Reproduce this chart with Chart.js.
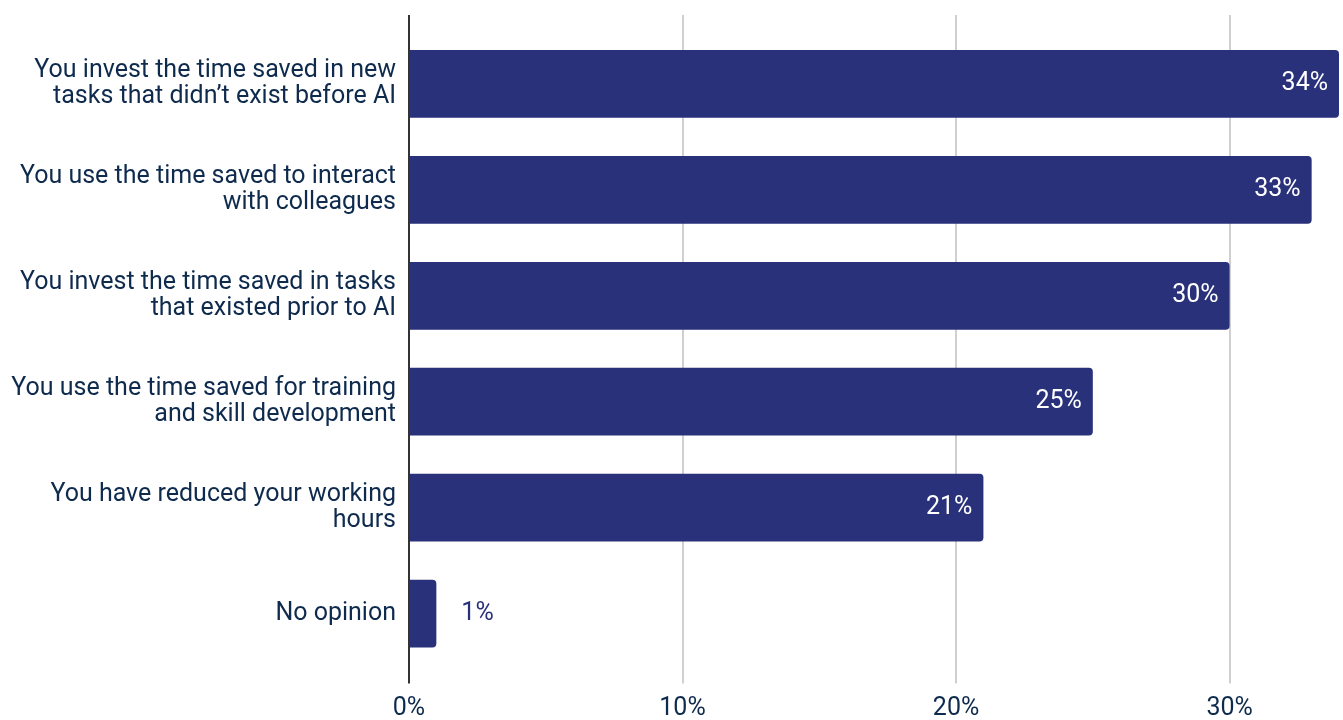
<!DOCTYPE html>
<html>
<head>
<meta charset="utf-8">
<script src="https://cdn.jsdelivr.net/npm/chart.js@4/dist/chart.umd.min.js"></script>
<style>
  html, body { margin: 0; padding: 0; background: #fff; }
  .chart-container { position: relative; width: 1343px; height: 720px; }
</style>
</head>
<body>
<div class="chart-container">
  <canvas id="timeChart"></canvas>
</div>
<script>
const categories = [
  ["You invest the time saved in new", "tasks that didn\u2019t exist before AI"],
  ["You use the time saved to interact", "with colleagues"],
  ["You invest the time saved in tasks", "that existed prior to AI"],
  ["You use the time saved for training", "and skill development"],
  ["You have reduced your working", "hours"],
  "No opinion",
];
const shares = [34, 33, 30, 25, 21, 1];
const xTicks = [0, 10, 20, 30];

const BAR_COLOR = "#29317a";
const TEXT_COLOR = "#0e2a4d";
const FONT = "Roboto";

// percentage labels: inside the bar end, or just past it for tiny bars
const valueLabels = {
  id: "valueLabels",
  afterDatasetsDraw(chart) {
    const ctx = chart.ctx;
    const meta = chart.getDatasetMeta(0);
    ctx.save();
    ctx.font = "25px " + FONT;
    ctx.textBaseline = "middle";
    meta.data.forEach(function (bar, i) {
      const v = shares[i];
      const text = v + "%";
      if (v >= 5) {
        ctx.fillStyle = "#ffffff";
        ctx.textAlign = "right";
        ctx.fillText(text, bar.x - 11, bar.y);
      } else {
        ctx.fillStyle = BAR_COLOR;
        ctx.textAlign = "left";
        ctx.fillText(text, bar.x + 25, bar.y);
      }
    });
    ctx.restore();
  },
};

const gridColor = function (c) {
  return c.tick && c.tick.value === 0 ? "#333333" : "#d0d0d0";
};

const ctx = document.getElementById("timeChart").getContext("2d");
new Chart(ctx, {
  type: "bar",
  data: {
    labels: categories,
    datasets: [
      {
        data: shares,
        backgroundColor: BAR_COLOR,
        borderRadius: 4,
        borderSkipped: "start",
        categoryPercentage: 0.8,
        barPercentage: 0.8,
      },
    ],
  },
  options: {
    indexAxis: "y",
    responsive: true,
    maintainAspectRatio: false,
    animation: false,
    layout: {
      padding: { top: 15, right: 4, bottom: -13.5, left: 0 },
    },
    plugins: {
      legend: { display: false },
      tooltip: { enabled: false },
    },
    scales: {
      x: {
        position: "bottom",
        min: 0,
        max: 34,
        afterBuildTicks: function (scale) {
          scale.ticks = xTicks.map(function (v) { return { value: v }; });
        },
        grid: {
          color: gridColor,
          lineWidth: 2,
          tickLength: 17,
        },
        border: { display: false },
        ticks: {
          padding: 10,
          color: TEXT_COLOR,
          font: { family: FONT, size: 25 },
          callback: function (v) { return v + "%"; },
        },
      },
      xTop: {
        position: "top",
        axis: "x",
        min: 0,
        max: 34,
        afterBuildTicks: function (scale) {
          scale.ticks = xTicks.map(function (v) { return { value: v }; });
        },
        grid: {
          color: gridColor,
          lineWidth: 2,
          tickLength: 16,
        },
        border: { display: false },
        ticks: { display: false },
      },
      y: {
        afterFit: function (scale) {
          scale.width = 409;
        },
        grid: { display: false },
        border: { display: false },
        ticks: {
          padding: 5,
          color: TEXT_COLOR,
          font: { family: FONT, size: 25, lineHeight: 1.04 },
        },
      },
    },
  },
  plugins: [valueLabels],
});
</script>
</body>
</html>
